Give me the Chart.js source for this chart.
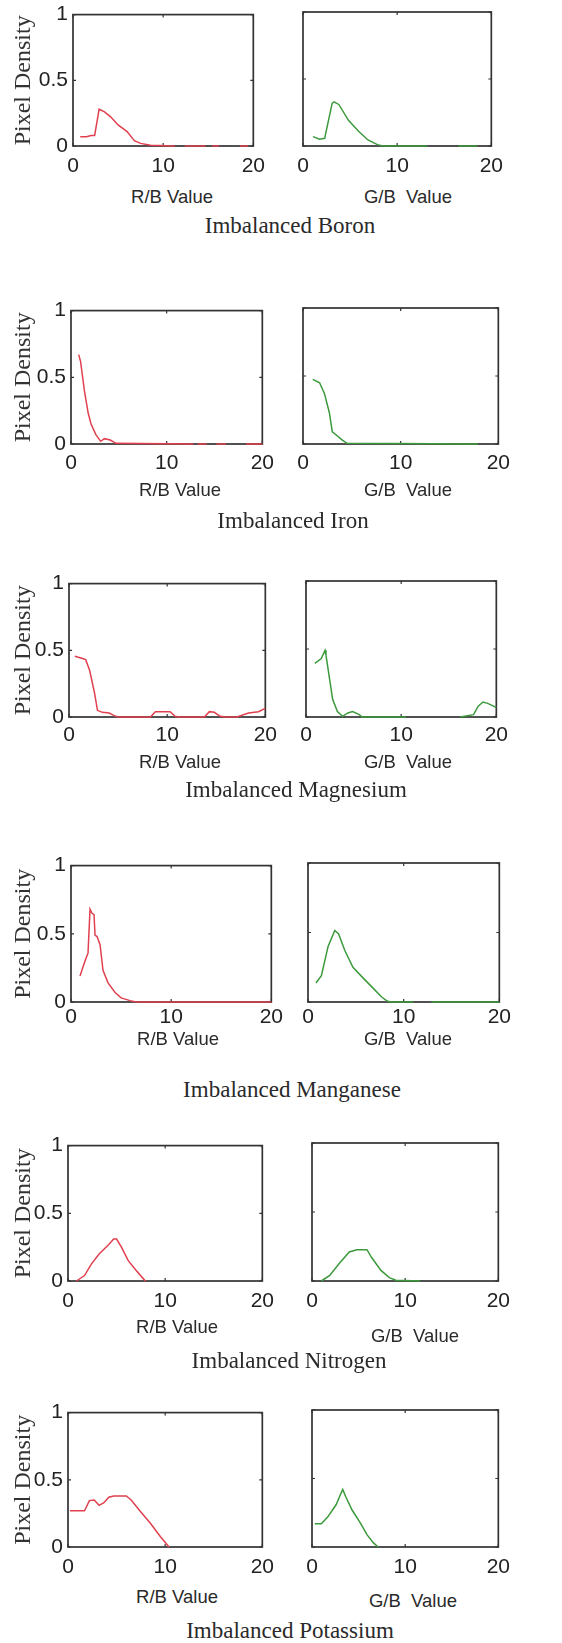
<!DOCTYPE html>
<html><head><meta charset="utf-8">
<script src="https://cdn.jsdelivr.net/npm/chart.js@4.4.1/dist/chart.umd.min.js"></script>
<style>
body{margin:0;background:#fff;}
#wrap{position:relative;width:562px;height:1643px;overflow:hidden;background:#fff;}
#wrap canvas{position:absolute;}
.t{position:absolute;transform:translate(-50%,-50%);white-space:pre;color:#2a2a2a;line-height:1;}
.ax{font:18.5px "Liberation Sans",Arial,sans-serif;}
.sub{font:23px "Liberation Serif","Times New Roman",serif;}
</style></head><body><div id="wrap"></div>
<script>
// ---- data ----
const nutrients = ['Boron','Iron','Magnesium','Manganese','Nitrogen','Potassium'];
const xTicks = [0, 10, 20];
const yTicks = [0, 0.5, 1];
const xTitles = ['R/B Value', 'G/B  Value'];
const yTitle = 'Pixel Density';

const boronRB = [[0.8,0.07],[1.5,0.07],[2.0,0.08],[2.4,0.08],[2.9,0.28],[3.5,0.26],[4.2,0.22],[5.0,0.16],[6.0,0.11],[6.8,0.04],[7.5,0.02],[8.6,0.005],[11.3,0],[11.8,null],[12.4,0],[14.7,0],[15,null],[15.4,0],[16.2,0],[17,null],[18.5,0],[19.4,0]];
const boronGB = [[1.07,0.07],[1.75,0.05],[2.3,0.057],[3.1,0.32],[3.3,0.33],[3.8,0.31],[4.85,0.19],[5.9,0.11],[6.9,0.045],[7.9,0.01],[8.5,0],[13.2,0],[15,null],[16.5,0],[18.5,0]];
const ironRB = [[0.8,0.67],[1.0,0.62],[1.4,0.40],[1.8,0.23],[2.1,0.15],[2.6,0.07],[3.1,0.02],[3.5,0.04],[4.1,0.03],[4.7,0.005],[12.8,0],[13,null],[13.2,0],[14.2,0],[14.7,null],[15.2,0],[16.2,0],[17,null],[18.3,0],[20,0]];
const ironGB = [[1.0,0.475],[1.7,0.45],[2.2,0.37],[2.7,0.23],[3.0,0.09],[3.4,0.066],[4.0,0.03],[4.5,0.005],[17.9,0]];
const magnesiumRB = [[0.6,0.456],[1.3,0.44],[1.7,0.43],[2.1,0.35],[2.6,0.18],[2.9,0.05],[3.4,0.035],[4.1,0.03],[4.6,0.01],[5.0,0],[8.3,0],[8.8,0.04],[10.3,0.04],[10.8,0.005],[11.2,0],[13.8,0],[14.3,0.04],[14.8,0.035],[15.4,0.005],[16,0],[17.1,0],[18.3,0.03],[19.3,0.04],[20,0.065]];
const magnesiumGB = [[0.93,0.395],[1.6,0.43],[2.0,0.49],[2.1,0.455],[2.5,0.27],[2.8,0.13],[3.3,0.04],[3.85,0.005],[4.4,0.03],[4.9,0.04],[5.6,0.017],[5.9,0],[10.5,0],[13,null],[16.2,0],[17.6,0.017],[18.1,0.08],[18.6,0.11],[19.1,0.1],[19.7,0.08],[20,0.07]];
const manganeseRB = [[0.9,0.19],[1.4,0.3],[1.7,0.36],[1.9,0.68],[2.1,0.65],[2.3,0.64],[2.4,0.49],[2.6,0.48],[2.9,0.42],[3.2,0.23],[3.7,0.14],[4.4,0.07],[5.0,0.03],[5.9,0.01],[6.5,0],[20,0]];
const manganeseGB = [[0.83,0.137],[1.4,0.19],[2.1,0.4],[2.8,0.515],[3.2,0.49],[3.85,0.37],[4.7,0.25],[5.8,0.17],[6.8,0.1],[7.7,0.036],[8.2,0.01],[8.6,0],[11,0],[12,null],[12.9,0],[20,0]];
const nitrogenRB = [[0.87,0],[1.7,0.04],[2.4,0.125],[3.2,0.2],[4.2,0.27],[4.7,0.31],[5.0,0.31],[5.5,0.25],[6.2,0.15],[7.0,0.08],[7.9,0.005],[8.0,0]];
const nitrogenGB = [[1.0,0],[1.9,0.04],[2.9,0.125],[4.0,0.21],[4.8,0.227],[5.9,0.227],[6.4,0.17],[7.4,0.077],[8.3,0.024],[9.0,0.005],[11.6,0]];
const potassiumRB = [[0.2,0.27],[1.7,0.27],[2.2,0.345],[2.7,0.35],[3.2,0.31],[3.7,0.33],[4.2,0.37],[4.7,0.38],[6.0,0.38],[6.5,0.35],[7.5,0.26],[8.5,0.175],[9.5,0.078],[10.4,0]];
const potassiumGB = [[0.3,0.17],[1.0,0.17],[1.7,0.22],[2.6,0.31],[3.1,0.39],[3.3,0.42],[3.6,0.37],[4.3,0.27],[5.2,0.175],[5.9,0.09],[6.6,0.03],[7.1,0]];

const rbSeries = [boronRB, ironRB, magnesiumRB, manganeseRB, nitrogenRB, potassiumRB];
const gbSeries = [boronGB, ironGB, magnesiumGB, manganeseGB, nitrogenGB, potassiumGB];

// ---- layout (pixels) ----
// [leftBoxL, leftBoxR, rightBoxL, rightBoxR, top, bottom, xTickPad]
const boxes = [
  [73,259,303,497,12,146,8],
  [71,267,303,503,308,444,7],
  [69,269,306,500,581,717,6],
  [71,272,308,500,863,1002,3],
  [68,268,312,504,1143,1281,8],
  [68,268,312,504,1410,1547,8]
];
const xTitlePos = [[172,197,408,197],[180,490,408,490],[180,762,408,762],[178,1039,408,1039],[177,1327,415,1336],[177,1597,413,1601]];
const subPos = [[290,226],[293,521],[296,790],[292,1090],[289,1361],[290,1631]];

const TICKFONT = {family:'"Liberation Sans", Arial, sans-serif', size:21};
const RED = '#e0404f', GREEN = '#3c9a3c';
const wrap = document.getElementById('wrap');

const boxPlugin = {
  id:'boxFrame',
  beforeDatasetsDraw(chart){
    const {ctx, chartArea:a, scales:{x, y}} = chart;
    ctx.save();
    ctx.strokeStyle = '#333'; ctx.lineWidth = 1.7;
    ctx.strokeRect(a.left, a.top, a.right - a.left, a.bottom - a.top);
    ctx.lineWidth = 1.2;
    ctx.beginPath();
    xTicks.forEach(v => { const p = x.getPixelForValue(v);
      ctx.moveTo(p, a.bottom); ctx.lineTo(p, a.bottom - 3);
      ctx.moveTo(p, a.top); ctx.lineTo(p, a.top + 3); });
    yTicks.forEach(v => { const p = y.getPixelForValue(v);
      ctx.moveTo(a.left, p); ctx.lineTo(a.left + 3, p);
      ctx.moveTo(a.right, p); ctx.lineTo(a.right - 3, p); });
    ctx.stroke();
    ctx.restore();
  }
};

function makePanel(series, color, bl, br, bt, bb, tickPad, isLeft){
  const PT = 15, XH = 38, RP = 14;
  const yw = isLeft ? bl : 14;
  const cv = document.createElement('canvas');
  const w = yw + (br - bl) + RP, h = PT + (bb - bt) + XH;
  cv.width = w; cv.height = h;
  cv.style.left = (bl - yw) + 'px'; cv.style.top = (bt - PT) + 'px';
  cv.style.width = w + 'px'; cv.style.height = h + 'px';
  wrap.appendChild(cv);
  new Chart(cv, {
    type:'line',
    data:{datasets:[{data: series.map(p => ({x:p[0], y:p[1]})), borderColor:color, borderWidth:1.5,
      pointRadius:0, tension:0, fill:false, spanGaps:false, clip:4}]},
    options:{
      responsive:false, animation:false, events:[], devicePixelRatio:1,
      layout:{padding:{top:PT, right:RP, left:0, bottom:0}},
      plugins:{legend:{display:false}, tooltip:{enabled:false}, title:{display:false}},
      scales:{
        x:{type:'linear', min:0, max:20,
          grid:{display:false, drawTicks:false}, border:{display:false},
          afterBuildTicks: s => { s.ticks = xTicks.map(v => ({value:v})); },
          ticks:{padding:tickPad, autoSkip:false, maxRotation:0, font:TICKFONT, color:'#222', callback:v => String(v)},
          afterFit: s => { s.height = XH; }},
        y:{type:'linear', min:0, max:1,
          grid:{display:false, drawTicks:false}, border:{display:false},
          afterBuildTicks: s => { s.ticks = yTicks.map(v => ({value:v})); },
          ticks:{display:isLeft, padding:5, font:TICKFONT, color:'#222', callback:v => String(v)},
          title:{display:isLeft, text:yTitle, color:'#333',
            font:{family:'"Liberation Serif", "Times New Roman", serif', size:24}, padding:{top:9, bottom:0}},
          afterFit: s => { s.width = yw; }}
      }
    },
    plugins:[boxPlugin]
  });
}

function addText(txt, x, y, cls){
  const d = document.createElement('div');
  d.className = 't ' + cls; d.textContent = txt;
  d.style.left = x + 'px'; d.style.top = y + 'px';
  wrap.appendChild(d);
}

nutrients.forEach((n, i) => {
  const [lbl, lbr, rbl, rbr, top, bot, tp] = boxes[i];
  makePanel(rbSeries[i], RED, lbl, lbr, top, bot, tp, true);
  makePanel(gbSeries[i], GREEN, rbl, rbr, top, bot, tp, false);
  const xp = xTitlePos[i];
  addText(xTitles[0], xp[0], xp[1], 'ax');
  addText(xTitles[1], xp[2], xp[3], 'ax');
  addText('Imbalanced ' + n, subPos[i][0], subPos[i][1], 'sub');
});
</script></body></html>
